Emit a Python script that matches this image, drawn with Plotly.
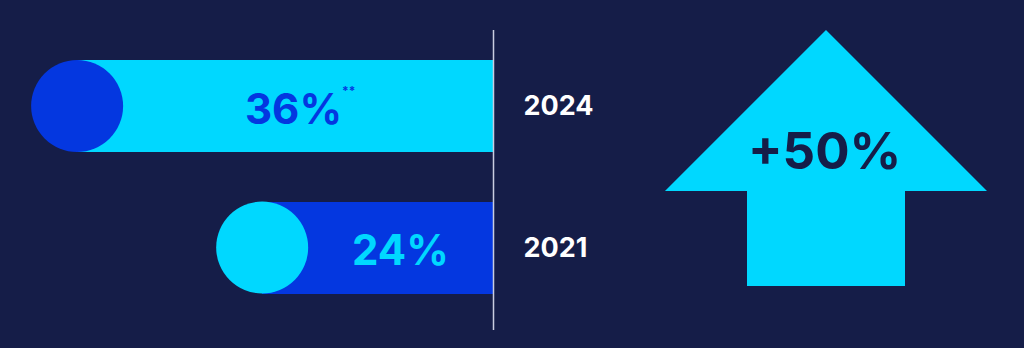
import plotly.graph_objects as go

# ---- data ----
years = ["2024", "2021"]
values = [36, 24]
value_labels = ["36%", "24%"]
footnote_marks = ["**", ""]
year_order = ["2021", "2024"]

# ---- styles ----
BG = "#151d48"
CYAN = "#00d8ff"
BLUE = "#0437e0"
LINE = "#c9cde0"
FONT = "Inter"

W, H = 1024, 348
line_px = 493.5               # right edge of bar plot area (the vertical divider)
axis_lo, axis_hi = 9.0, 41.0  # visible value window of the bar axis (cropped axis)
px_per_unit = line_px / (axis_hi - axis_lo)
circle_d = 92
circle_r_units = (circle_d / 2) / px_per_unit

bar_colors = [CYAN, BLUE]
circle_colors = [BLUE, CYAN]
text_colors = [BLUE, CYAN]

growth = (values[0] - values[1]) / values[1] * 100
growth_label = f"+{growth:.0f}%"

fig = go.Figure()

fig.add_trace(go.Bar(
    y=years, x=values, orientation="h", width=0.65,
    marker=dict(color=bar_colors, line=dict(width=0)),
    hoverinfo="skip", showlegend=False,
))

fig.add_trace(go.Scatter(
    y=years, x=values, mode="markers",
    marker=dict(size=circle_d, color=circle_colors, line=dict(width=0)),
    cliponaxis=False, hoverinfo="skip", showlegend=False,
))

annotations = []
for yr, v, lab, fm, col in zip(years, values, value_labels, footnote_marks, text_colors):
    tx = (v - circle_r_units + axis_lo) / 2
    yi = year_order.index(yr)  # category axes take serial indices in annotations
    annotations.append(dict(
        text=lab, x=tx, y=yi, xref="x", yref="y", showarrow=False,
        xanchor="center", yanchor="middle", yshift=-2,
        xshift=-15 if fm else 0,
        font=dict(family=FONT, size=42, color=col, weight="bold"),
    ))
    if fm:
        annotations.append(dict(
            text=fm, x=tx, y=yi, xref="x", yref="y", showarrow=False,
            xanchor="left", yanchor="middle", xshift=32, yshift=16,
            font=dict(family=FONT, size=12, color=col, weight="bold"),
        ))

annotations.append(dict(
    text=growth_label, xref="paper", yref="paper",
    x=824 / W, y=1 - 150 / H, showarrow=False,
    xanchor="center", yanchor="middle",
    font=dict(family=FONT, size=51, color=BG, weight="bold"),
))

# arrow (decorative), pixel outline converted to paper coords
arrow_px = [(826, 30), (987, 191), (905, 191), (905, 286),
            (747, 286), (747, 191), (665, 191)]
path = "M " + " L ".join(f"{x / W:.5f},{1 - y / H:.5f}" for x, y in arrow_px) + " Z"

fig.update_layout(
    width=W, height=H,
    margin=dict(l=0, r=0, t=0, b=0),
    paper_bgcolor=BG, plot_bgcolor=BG,
    bargap=0,
    xaxis=dict(domain=[0, line_px / W], range=[axis_hi, axis_lo],
               visible=False, fixedrange=True),
    yaxis=dict(type="category", categoryorder="array",
               categoryarray=year_order,
               range=[-0.710, 1.749], side="right",
               showgrid=False, zeroline=False, showline=False, ticks="",
               ticklabelstandoff=29,
               tickfont=dict(family=FONT, size=27, color="white", weight="bold"),
               fixedrange=True),
    shapes=[
        dict(type="line", xref="x domain", yref="paper",
             x0=1, x1=1, y0=1 - 30 / H, y1=1 - 330 / H,
             line=dict(color=LINE, width=1.5), layer="above"),
        dict(type="path", xref="paper", yref="paper", path=path,
             fillcolor=CYAN, line=dict(width=0), layer="below"),
    ],
    annotations=annotations,
)

fig.write_html("out.html")
